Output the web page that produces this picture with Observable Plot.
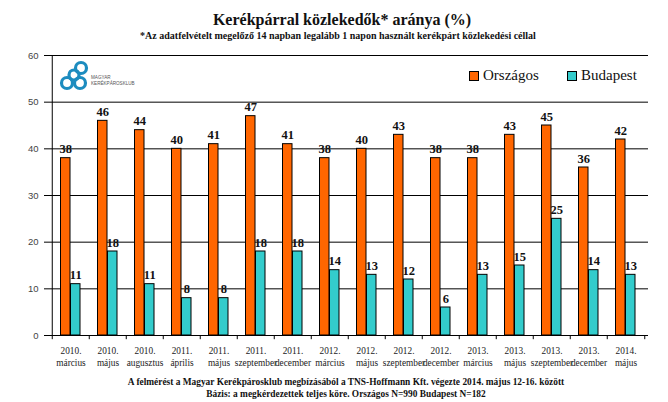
<!DOCTYPE html>
<html>
<head>
<meta charset="utf-8">
<script src="https://cdn.jsdelivr.net/npm/d3@7"></script>
<script src="https://cdn.jsdelivr.net/npm/@observablehq/plot@0.6"></script>
<style>
  html, body { margin: 0; padding: 0; background: #fff; }
  #wrap { position: relative; width: 668px; height: 402px; overflow: hidden; font-family: "Liberation Serif", "Times New Roman", serif; }
  .title { position: absolute; left: 0; width: 684px; top: 11px; text-align: center; font-weight: bold; font-size: 16px; color: #111; }
  .subtitle { position: absolute; left: 0; width: 676px; top: 30px; text-align: center; font-weight: bold; font-size: 10px; color: #111; }
  #chart { position: absolute; left: 0; top: 45px; }
  .legend { position: absolute; top: 67px; font-size: 15px; color: #111; display: flex; align-items: center; }
  .legend .sw { width: 8px; height: 8px; border: 1px solid #000; margin-right: 4px; }
  .caption { position: absolute; left: 0; width: 692px; text-align: center; font-weight: bold; font-size: 9.4px; color: #111; font-family: "Liberation Serif", "Times New Roman", serif; }
  #logo { position: absolute; left: 55px; top: 58px; }
</style>
</head>
<body>
<div id="wrap">
  <div class="title">Kerékpárral közlekedők* aránya (%)</div>
  <div class="subtitle">*Az adatfelvételt megelőző 14 napban legalább 1 napon használt kerékpárt közlekedési céllal</div>
  <div id="chart"></div>
  <svg id="logo" width="90" height="36" viewBox="0 0 90 36">
    <g fill="none" stroke="#1d8cbf" stroke-width="3.2">
      <circle cx="12" cy="25" r="5.5"/>
      <circle cx="25" cy="25" r="5.5"/>
      <circle cx="26" cy="10" r="5.5"/>
      <circle cx="19" cy="17" r="5"/>
    </g>
    <text x="36" y="21" font-family="Liberation Sans, sans-serif" font-size="4.6" fill="#555">MAGYAR</text>
    <text x="36" y="27" font-family="Liberation Sans, sans-serif" font-size="4.6" fill="#555">KERÉKPÁROSKLUB</text>
  </svg>
  <div class="legend" style="left:469px"><span class="sw" style="background:#FF6600"></span>Országos</div>
  <div class="legend" style="left:567px"><span class="sw" style="background:#33CCCC"></span>Budapest</div>
  <div class="caption" style="top:377px">A felmérést a Magyar Kerékpárosklub megbízásából a TNS-Hoffmann Kft. végezte 2014. május 12-16. között</div>
  <div class="caption" style="top:389px">Bázis: a megkérdezettek teljes köre. Országos N=990 Budapest N=182</div>
</div>
<script>
const categories = [
  "2010.\nmárcius", "2010.\nmájus", "2010.\naugusztus", "2011.\náprilis",
  "2011.\nmájus", "2011.\nszeptember", "2011.\ndecember", "2012.\nmárcius",
  "2012.\nmájus", "2012.\nszeptember", "2012.\ndecember", "2013.\nmárcius",
  "2013.\nmájus", "2013.\nszeptember", "2013.\ndecember", "2014.\nmájus"
];
const orszagos = [38, 46, 44, 40, 41, 47, 41, 38, 40, 43, 38, 38, 43, 45, 36, 42];
const budapest = [11, 18, 11, 8, 8, 18, 18, 14, 13, 12, 6, 13, 15, 25, 14, 13];
const yTicks = [0, 10, 20, 30, 40, 50, 60];

const rows = categories.map((c, i) => ({cat: c, o: orszagos[i], b: budapest[i]}));

const W = 668, mL = 48, mR = 20;
const bw = (W - mL - mR) / categories.length;
const serif = "Liberation Serif, Times New Roman, serif";

const chart = Plot.plot({
  width: W,
  height: 325,
  marginLeft: mL,
  marginRight: mR,
  marginTop: 10,
  marginBottom: 35,
  style: {background: "transparent", overflow: "visible"},
  x: {domain: categories, padding: 0, axis: null},
  y: {domain: [0, 60], axis: null},
  marks: [
    Plot.ruleY(yTicks, {stroke: "#000", strokeWidth: 1}),
    Plot.barY(rows, {x: "cat", y: "o", fill: "#FF6600", stroke: "#000", strokeWidth: 1, insetLeft: 8.5, insetRight: bw - 18.5}),
    Plot.barY(rows, {x: "cat", y: "b", fill: "#33CCCC", stroke: "#000", strokeWidth: 1, insetLeft: 18.5, insetRight: bw - 28.5}),
    Plot.text(rows, {x: "cat", y: "o", text: "o", dx: 13.5 - bw / 2, dy: -5, lineAnchor: "bottom",
      fontFamily: serif, fontWeight: "bold", fontSize: 12.5, fill: "#111"}),
    Plot.text(rows, {x: "cat", y: "b", text: "b", dx: 23.5 - bw / 2, dy: -5, lineAnchor: "bottom",
      fontFamily: serif, fontWeight: "bold", fontSize: 12.5, fill: "#111"}),
    // y axis line
    Plot.ruleX([categories[0]], {dx: -bw / 2, y1: 0, y2: 60, stroke: "#000"}),
    // x tick marks at category boundaries
    Plot.ruleX(categories, {dx: -bw / 2, y1: 0, y2: -0.9, stroke: "#000"}),
    Plot.ruleX([categories[categories.length - 1]], {dx: bw / 2, y1: 0, y2: -0.9, stroke: "#000"}),
    Plot.axisY({ticks: yTicks, tickSize: 4, tickPadding: 6, stroke: "#000", fill: "#444",
      fontFamily: "Liberation Sans, sans-serif", fontSize: 9.5, label: null}),
    Plot.axisX({tickSize: 0, tickPadding: 10, fontFamily: serif, fontSize: 9.3, fill: "#222", label: null, lineHeight: 1.3})
  ]
});
document.getElementById("chart").appendChild(chart);
</script>
</body>
</html>
